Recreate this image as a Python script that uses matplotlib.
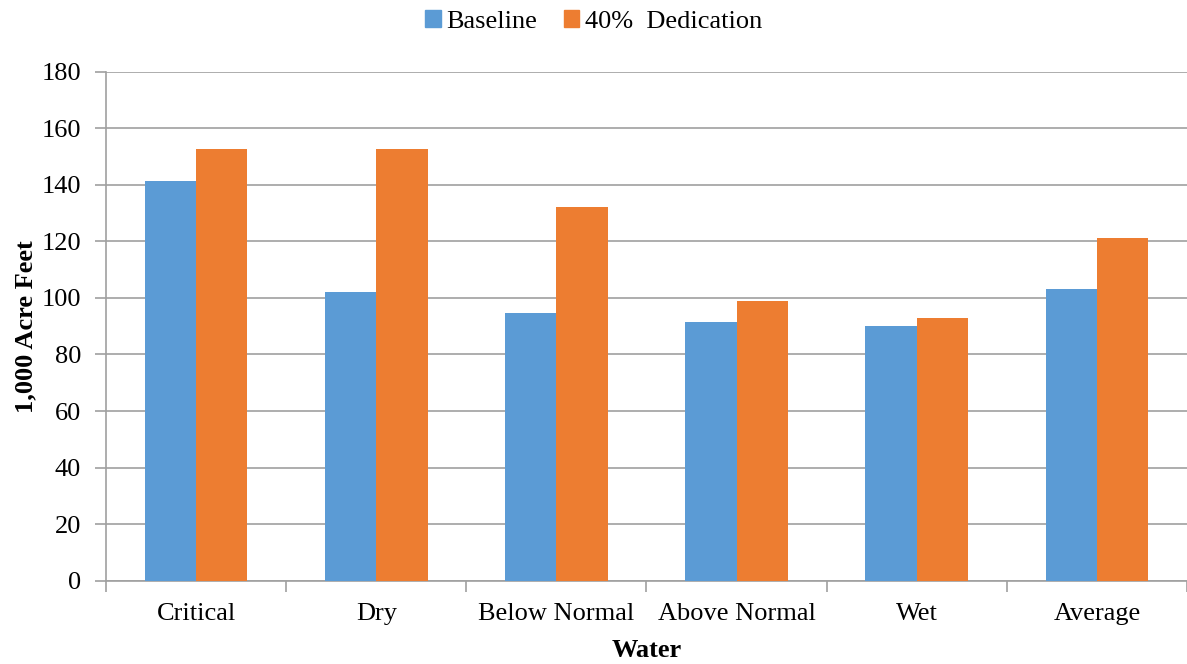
import numpy as np
import matplotlib.pyplot as plt
from matplotlib.patches import Patch

categories = ['Critical', 'Dry', 'Below Normal', 'Above Normal', 'Wet', 'Average']
baseline = [141.4, 102.2, 94.7, 91.5, 90.2, 103.1]
dedication = [152.7, 152.7, 132.1, 98.9, 92.8, 121.3]

plt.rcParams['font.family'] = ['Liberation Serif', 'DejaVu Serif']

blue = '#5B9BD5'
orange = '#ED7D31'
grid = '#A0A0A0'
fs = 19

fig = plt.figure(figsize=(11.87, 6.64), dpi=100)
ax = fig.add_axes([0.0893, 0.1255, 0.9107, 0.7665])

x = np.arange(len(categories))
w = 0.285
ax.bar(x - w / 2, baseline, w, color=blue, zorder=3)
ax.bar(x + w / 2, dedication, w, color=orange, zorder=3)

ax.set_xlim(-0.5, len(categories) - 0.5)
ax.set_ylim(0, 180)
ax.set_yticks(range(0, 181, 20))
ax.yaxis.grid(True, color=grid, linewidth=1.2, zorder=0)

# category labels centred, tick marks on the boundaries
ax.set_xticks(np.arange(-0.5, len(categories)), minor=False)
ax.set_xticklabels([])
ax.set_xticks(x, minor=True)
ax.set_xticklabels(categories, minor=True)
ax.tick_params(axis='x', which='major', length=8, color=grid, width=1.2)
ax.tick_params(axis='x', which='minor', length=0, labelsize=fs, pad=16)
ax.tick_params(axis='y', length=8, color=grid, width=1.2, labelsize=fs, pad=10)

for s in ['top', 'right']:
    ax.spines[s].set_visible(False)
for s in ['left', 'bottom']:
    ax.spines[s].set_color(grid)
    ax.spines[s].set_linewidth(1.2)

ax.set_ylabel('1,000 Acre Feet', fontsize=fs, fontweight='bold', labelpad=3)
ax.set_xlabel('Water', fontsize=fs, fontweight='bold', labelpad=10)

handles = [Patch(color=blue, label='Baseline'), Patch(color=orange, label='40%  Dedication')]
fig.legend(handles=handles, loc='center', bbox_to_anchor=(0.5, 0.968), ncol=2,
           frameon=False, fontsize=fs, handlelength=0.6, handleheight=0.6,
           handletextpad=0.2, columnspacing=1.0)

fig.savefig('out.png', dpi=100)
